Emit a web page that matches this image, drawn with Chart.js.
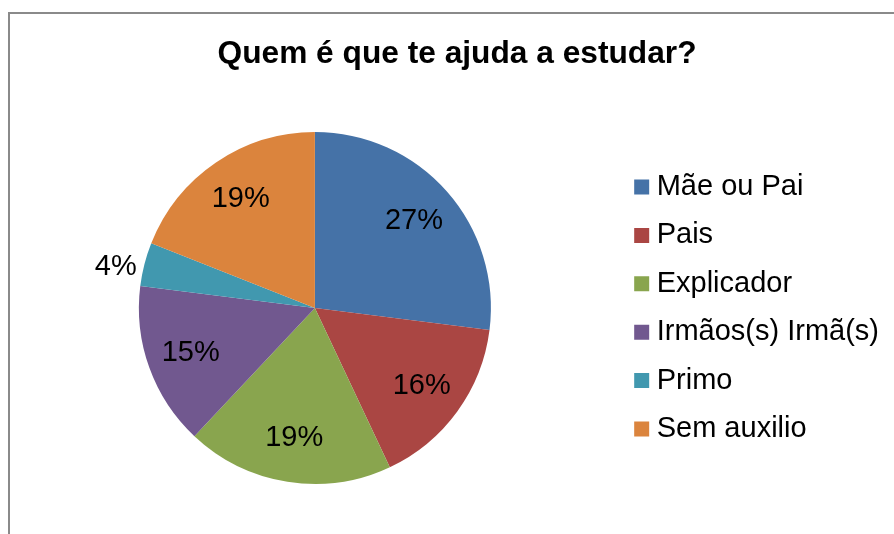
<!DOCTYPE html>
<html>
<head>
<meta charset="utf-8">
<title>Quem é que te ajuda a estudar?</title>
<script src="https://cdn.jsdelivr.net/npm/chart.js@4.4.1/dist/chart.umd.min.js"></script>
<style>
  html, body { margin: 0; padding: 0; background: #fff; }
  #wrap { position: relative; width: 894px; height: 534px; }
</style>
</head>
<body>
<div id="wrap"><canvas id="helpChart" width="894" height="534"></canvas></div>
<script>
const chartTitle = 'Quem é que te ajuda a estudar?';
const categories = ['Mãe ou Pai', 'Pais', 'Explicador', 'Irmãos(s) Irmã(s)', 'Primo', 'Sem auxilio'];
const shares = [27, 16, 19, 15, 4, 19];
const sliceColors = ['#4572A7', '#AA4643', '#89A54E', '#71588F', '#4198AF', '#DB843D'];

const FONT = '"Liberation Sans", Arial, sans-serif';

// grey frame (top + left edge) and the bold title
const framePlugin = {
    id: 'frame',
    beforeDraw(chart) {
        const ctx = chart.ctx;
        ctx.save();
        ctx.fillStyle = '#fff';
        ctx.fillRect(0, 0, chart.width, chart.height);
        ctx.strokeStyle = '#8a8a8a';
        ctx.lineWidth = 2;
        ctx.beginPath();
        ctx.moveTo(9, chart.height + 5);
        ctx.lineTo(9, 13);
        ctx.lineTo(chart.width + 5, 13);
        ctx.stroke();

        ctx.font = 'bold 31.7px ' + FONT;
        ctx.fillStyle = '#000';
        ctx.textAlign = 'center';
        ctx.textBaseline = 'alphabetic';
        ctx.fillText(chartTitle, 457, 63);
        ctx.restore();
    }
};

// percentage labels: inside the slice, or just outside for tiny slices
const pctLabels = {
    id: 'pctLabels',
    afterDatasetsDraw(chart) {
        const ctx = chart.ctx;
        const meta = chart.getDatasetMeta(0);
        const values = chart.data.datasets[0].data;
        const total = values.reduce((a, b) => a + b, 0);
        ctx.save();
        ctx.font = '29px ' + FONT;
        ctx.fillStyle = '#000';
        ctx.textBaseline = 'middle';
        meta.data.forEach((arc, i) => {
            const p = arc.getProps(['x', 'y', 'startAngle', 'endAngle', 'outerRadius'], true);
            const mid = (p.startAngle + p.endAngle) / 2;
            const share = values[i] / total;
            const text = Math.round(share * 100) + '%';
            if (share < 0.05) {
                const r = p.outerRadius + 8;
                ctx.textAlign = Math.cos(mid) < 0 ? 'right' : 'left';
                ctx.fillText(text, p.x + Math.cos(mid) * r, p.y + Math.sin(mid) * r + 5);
            } else {
                const r = p.outerRadius * 0.75;
                ctx.textAlign = 'center';
                ctx.fillText(text, p.x + Math.cos(mid) * r, p.y + Math.sin(mid) * r);
            }
        });
        ctx.restore();
    }
};

new Chart(document.getElementById('helpChart'), {
    type: 'pie',
    data: {
        labels: categories,
        datasets: [{
            data: shares,
            backgroundColor: sliceColors,
            borderWidth: 0,
            radius: 176
        }]
    },
    options: {
        responsive: false,
        animation: false,
        events: [],
        layout: {
            padding: { left: 8, right: 5, top: 90, bottom: 8 }
        },
        plugins: {
            title: { display: false },
            tooltip: { enabled: false },
            legend: {
                position: 'right',
                fullSize: false,
                labels: {
                    usePointStyle: true,
                    pointStyle: 'rect',
                    boxWidth: 1,
                    boxHeight: 15,
                    padding: 19.4,
                    color: '#000',
                    font: { family: FONT, size: 29 }
                }
            }
        }
    },
    plugins: [framePlugin, pctLabels]
});
</script>
</body>
</html>
